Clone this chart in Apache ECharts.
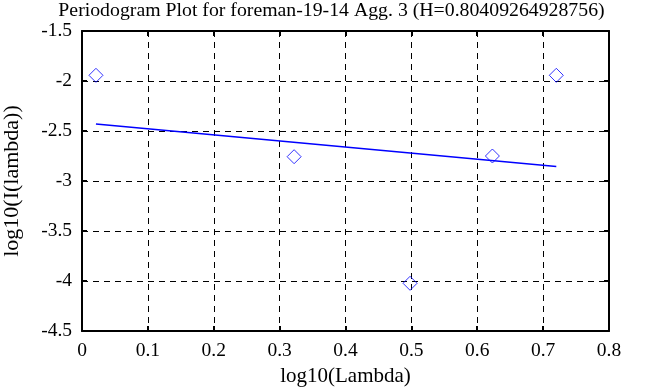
<!DOCTYPE html>
<html><head><meta charset="utf-8">
<script src="https://cdn.jsdelivr.net/npm/echarts@6/dist/echarts.min.js"></script>
<style>html,body{margin:0;padding:0;background:#fff}#c{width:663px;height:387px}</style>
</head><body><div id="c"></div>
<script>
var pointsX = [0.0212, 0.322, 0.498, 0.623, 0.720];
var pointsY = [-1.943, -2.757, -4.023, -2.750, -1.943];
var fitX = [0.0212, 0.720];
var fitY = [-2.430, -2.855];
var xTicks = [0, 0.1, 0.2, 0.3, 0.4, 0.5, 0.6, 0.7, 0.8];
var yTicks = [-4.5, -4, -3.5, -3, -2.5, -2, -1.5];
var titleText = 'Periodogram Plot for foreman-19-14 Agg. 3 (H=0.80409264928756)';

var F = 'Liberation Serif';
var chart = echarts.init(document.getElementById('c'));
var axisLine = {show: true, onZero: false, lineStyle: {color: '#000', width: 2}};
var axisTick = {show: true, inside: true, length: 5, lineStyle: {color: '#000', width: 2}};
function fmt(list){ return function(v){ var r = +v.toFixed(1); return list.indexOf(r) >= 0 ? String(r) : ''; }; }
chart.setOption({
  animation: false,
  backgroundColor: '#fff',
  title: {text: titleText, left: 'center', top: 0, padding: 0,
    textStyle: {fontFamily: F, fontSize: 19.8, fontWeight: 'normal', color: '#000', lineHeight: 21}},
  grid: {left: 82, right: 54, top: 31, bottom: 56, containLabel: false, outerBoundsMode: 'none'},
  xAxis: [
    {type: 'value', min: 0, max: 0.8, interval: 0.1, position: 'bottom',
      name: 'log10(Lambda)', nameLocation: 'middle', nameGap: 33,
      nameTextStyle: {fontFamily: F, fontSize: 21, color: '#000'},
      axisLabel: {fontFamily: F, fontSize: 19.5, color: '#000', margin: 10, formatter: fmt(xTicks)},
      splitLine: {show: true, lineStyle: {color: '#000', type: [6, 5], width: 1}},
      axisLine: axisLine, axisTick: axisTick},
    {type: 'value', min: 0, max: 0.8, interval: 0.1, position: 'top',
      axisLabel: {show: false}, splitLine: {show: false},
      axisLine: axisLine, axisTick: axisTick}
  ],
  yAxis: [
    {type: 'value', min: -4.5, max: -1.5, interval: 0.5, position: 'left',
      name: 'log10(I(lambda))', nameLocation: 'middle', nameGap: 59, nameRotate: 90,
      nameTextStyle: {fontFamily: F, fontSize: 22, color: '#000'},
      axisLabel: {fontFamily: F, fontSize: 19.5, color: '#000', margin: 10, formatter: fmt(yTicks)},
      splitLine: {show: true, lineStyle: {color: '#000', type: [6, 5], width: 1}},
      axisLine: axisLine, axisTick: axisTick},
    {type: 'value', min: -4.5, max: -1.5, interval: 0.5, position: 'right',
      axisLabel: {show: false}, splitLine: {show: false},
      axisLine: axisLine, axisTick: axisTick}
  ],
  series: [
    {type: 'line', xAxisIndex: 0, yAxisIndex: 0, data: fitX.map(function(x,i){return [x, fitY[i]];}),
      showSymbol: false, symbol: 'none', lineStyle: {color: '#0000ff', width: 1.3}},
    {type: 'scatter', xAxisIndex: 0, yAxisIndex: 0, data: pointsX.map(function(x,i){return [x, pointsY[i]];}),
      symbol: 'diamond', symbolSize: [14, 14],
      itemStyle: {color: 'rgba(0,0,0,0)', borderColor: '#0000ff', borderWidth: 1}}
  ]
});
</script></body></html>
